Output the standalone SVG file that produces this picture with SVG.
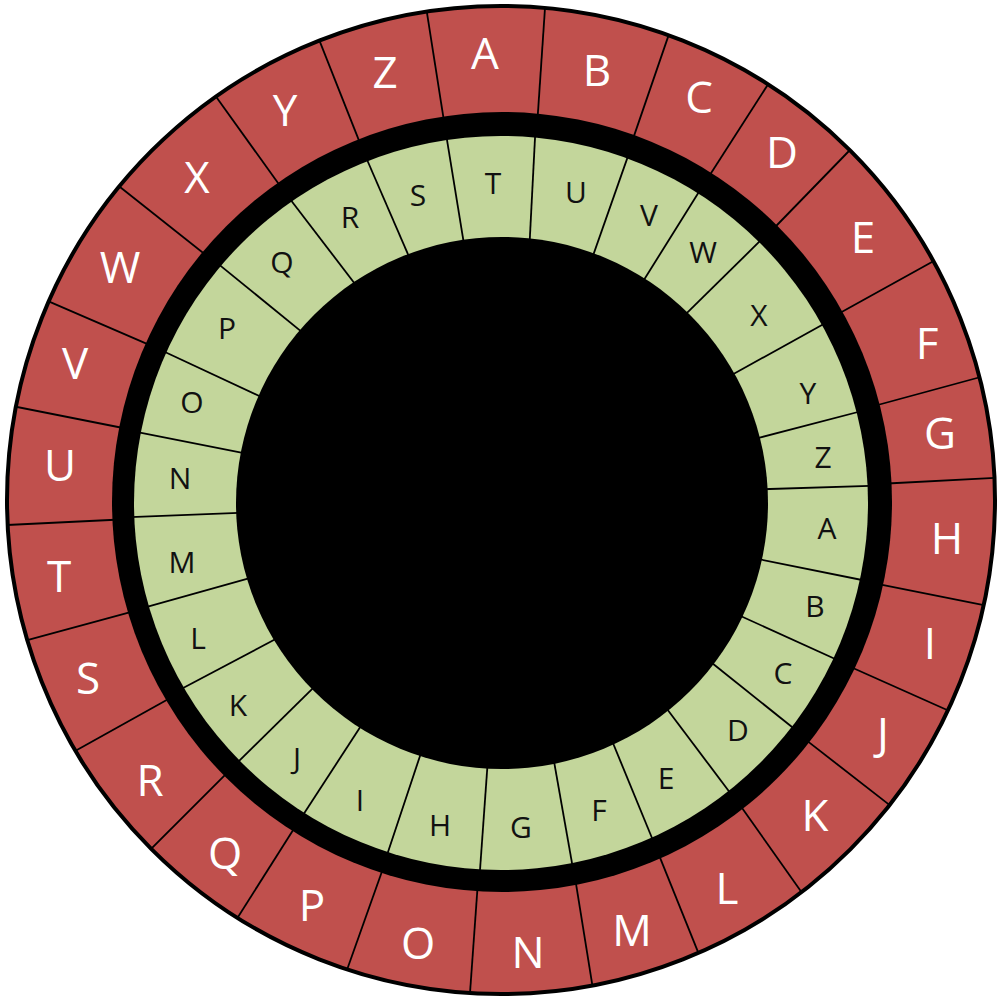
<svg xmlns="http://www.w3.org/2000/svg" width="1000" height="1000" viewBox="0 0 1000 1000">
<style>
.div{stroke:#000;stroke-width:1.8;fill:none}
.ol{font-family:"Open Sans","Liberation Sans",sans-serif;font-size:44px;fill:#fff;text-anchor:middle}
.il{font-family:"Open Sans","Liberation Sans",sans-serif;font-size:30px;fill:#111;text-anchor:middle}
</style>
<defs>
<clipPath id="outerClip"><circle cx="501" cy="500" r="494"/></clipPath>
</defs>
<rect width="1000" height="1000" fill="#fff"/>
<g id="outer-ring">
<circle cx="501" cy="500" r="494" fill="#C0504D"/>
<g id="outer-dividers" clip-path="url(#outerClip)">
<line class="div" x1="425.4" y1="2.8" x2="444.6" y2="125.2"/>
<line class="div" x1="545.7" y1="-2.4" x2="537.3" y2="122.4"/>
<line class="div" x1="671.3" y1="27.4" x2="631.7" y2="142.6"/>
<line class="div" x1="772.4" y1="77.6" x2="707.6" y2="178.4"/>
<line class="div" x1="854.8" y1="145" x2="773.2" y2="229"/>
<line class="div" x1="940.5" y1="257.3" x2="838.5" y2="313.7"/>
<line class="div" x1="986.2" y1="375.5" x2="875.8" y2="405.5"/>
<line class="div" x1="1002.6" y1="477.5" x2="887.4" y2="483.5"/>
<line class="div" x1="992.5" y1="606.9" x2="878.5" y2="584.1"/>
<line class="div" x1="955.5" y1="713.8" x2="853.5" y2="668.2"/>
<line class="div" x1="894.2" y1="808.6" x2="807.8" y2="741.4"/>
<line class="div" x1="805.3" y1="897.5" x2="741.7" y2="807.5"/>
<line class="div" x1="701.5" y1="960.7" x2="659.5" y2="856.3"/>
<line class="div" x1="593.5" y1="992.3" x2="575.5" y2="880.7"/>
<line class="div" x1="469.3" y1="1002.8" x2="477.7" y2="885.2"/>
<line class="div" x1="344.8" y1="976" x2="383.2" y2="868"/>
<line class="div" x1="232.8" y1="925.2" x2="295.2" y2="826.8"/>
<line class="div" x1="146.1" y1="853.9" x2="228.9" y2="771.1"/>
<line class="div" x1="68.4" y1="754.8" x2="171.6" y2="697.2"/>
<line class="div" x1="18.1" y1="642.7" x2="136.9" y2="610.3"/>
<line class="div" x1="-3.3" y1="525.5" x2="120.3" y2="519.5"/>
<line class="div" x1="6.9" y1="405" x2="128.1" y2="429"/>
<line class="div" x1="40.5" y1="297.9" x2="154.5" y2="347.1"/>
<line class="div" x1="111.8" y1="180.5" x2="210.2" y2="258.5"/>
<line class="div" x1="210.9" y1="89.5" x2="284.1" y2="191.5"/>
<line class="div" x1="316.2" y1="32.4" x2="361.8" y2="147.6"/>
</g>
</g>
<circle id="separator-ring" cx="502" cy="502" r="390" fill="#000"/>
<g id="inner-ring">
<circle cx="501" cy="503" r="367" fill="#C3D69B"/>
<g id="inner-dividers">
<line class="div" x1="535.5" y1="128.3" x2="529.5" y2="244.7"/>
<line class="div" x1="630.2" y1="149.9" x2="591.8" y2="259.1"/>
<line class="div" x1="702" y1="187" x2="642" y2="283"/>
<line class="div" x1="764.8" y1="236.3" x2="683.2" y2="316.7"/>
<line class="div" x1="830.5" y1="320.3" x2="728.5" y2="376.7"/>
<line class="div" x1="867.6" y1="409.5" x2="752.4" y2="439.5"/>
<line class="div" x1="877.8" y1="485.7" x2="760.2" y2="489.3"/>
<line class="div" x1="871.9" y1="582" x2="753.1" y2="558"/>
<line class="div" x1="841.8" y1="662" x2="736.2" y2="614"/>
<line class="div" x1="799.5" y1="733" x2="709.5" y2="661"/>
<line class="div" x1="733.8" y1="797.7" x2="664.2" y2="705.3"/>
<line class="div" x1="655.7" y1="847" x2="611.3" y2="739"/>
<line class="div" x1="573.7" y1="872.6" x2="553.3" y2="757.4"/>
<line class="div" x1="479.3" y1="879.8" x2="487.7" y2="762.2"/>
<line class="div" x1="385" y1="861" x2="421" y2="753"/>
<line class="div" x1="299.8" y1="820" x2="362.2" y2="724"/>
<line class="div" x1="233.2" y1="766.7" x2="314.8" y2="686.3"/>
<line class="div" x1="176.5" y1="691.5" x2="278.5" y2="637.5"/>
<line class="div" x1="140.7" y1="608.6" x2="252.3" y2="577.4"/>
<line class="div" x1="123.9" y1="517.4" x2="245.1" y2="512.6"/>
<line class="div" x1="132.4" y1="431.1" x2="247.6" y2="453.9"/>
<line class="div" x1="158" y1="348.8" x2="266" y2="399.2"/>
<line class="div" x1="214.5" y1="260.9" x2="304.5" y2="334.1"/>
<line class="div" x1="287.1" y1="195.3" x2="357.9" y2="287.7"/>
<line class="div" x1="364.1" y1="153" x2="410.9" y2="261"/>
<line class="div" x1="445.4" y1="130.2" x2="464.6" y2="247.8"/>
</g>
</g>
<circle id="hub" cx="502" cy="503" r="266" fill="#000"/>
<circle id="rim" cx="501" cy="500" r="494" fill="none" stroke="#000" stroke-width="4"/>
<g id="outer-letters">
<text class="ol" x="485" y="69">A</text>
<text class="ol" x="597" y="86">B</text>
<text class="ol" x="699" y="113">C</text>
<text class="ol" x="782" y="168">D</text>
<text class="ol" x="863" y="253">E</text>
<text class="ol" x="927" y="359">F</text>
<text class="ol" x="940" y="449">G</text>
<text class="ol" x="947" y="554">H</text>
<text class="ol" x="930" y="659">I</text>
<text class="ol" x="883" y="749">J</text>
<text class="ol" x="815" y="831">K</text>
<text class="ol" x="727" y="904">L</text>
<text class="ol" x="632" y="946">M</text>
<text class="ol" x="528" y="968">N</text>
<text class="ol" x="418" y="959">O</text>
<text class="ol" x="312" y="921">P</text>
<text class="ol" x="225" y="869">Q</text>
<text class="ol" x="150" y="796">R</text>
<text class="ol" x="88" y="694">S</text>
<text class="ol" x="59" y="592">T</text>
<text class="ol" x="60" y="481">U</text>
<text class="ol" x="75" y="379">V</text>
<text class="ol" x="120" y="283">W</text>
<text class="ol" x="197" y="193">X</text>
<text class="ol" x="285" y="126">Y</text>
<text class="ol" x="385" y="88">Z</text>
</g>
<g id="inner-letters">
<text class="il" x="493" y="194">T</text>
<text class="il" x="576" y="203">U</text>
<text class="il" x="649" y="226">V</text>
<text class="il" x="703" y="263">W</text>
<text class="il" x="759" y="326">X</text>
<text class="il" x="808" y="404">Y</text>
<text class="il" x="823" y="468">Z</text>
<text class="il" x="827" y="539">A</text>
<text class="il" x="815" y="617">B</text>
<text class="il" x="783" y="684">C</text>
<text class="il" x="738" y="741">D</text>
<text class="il" x="666" y="789">E</text>
<text class="il" x="599" y="821">F</text>
<text class="il" x="521" y="838">G</text>
<text class="il" x="440" y="836">H</text>
<text class="il" x="360" y="811">I</text>
<text class="il" x="297" y="769">J</text>
<text class="il" x="238" y="716">K</text>
<text class="il" x="198" y="649">L</text>
<text class="il" x="182" y="573">M</text>
<text class="il" x="180" y="489">N</text>
<text class="il" x="192" y="413">O</text>
<text class="il" x="227" y="339">P</text>
<text class="il" x="282" y="273">Q</text>
<text class="il" x="350" y="228">R</text>
<text class="il" x="418" y="206">S</text>
</g>
</svg>
